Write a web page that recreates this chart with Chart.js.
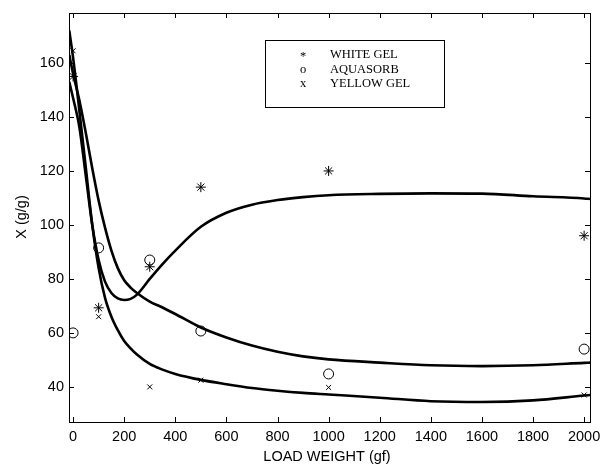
<!DOCTYPE html>
<html>
<head>
<meta charset="utf-8">
<script src="https://cdn.jsdelivr.net/npm/chart.js@4"></script>
<style>
  html, body { margin: 0; padding: 0; background: #fff; }
  #wrap { width: 600px; height: 467px; }
</style>
</head>
<body>
<div id="wrap"><canvas id="c" width="600" height="467"></canvas></div>
<script>
// Measured points
const LOADS = [0, 100, 300, 500, 1000, 2000];
const WHITE_GEL = [155, 69.3, 84.5, 114, 120, 96];
const AQUASORB = [60, 91.5, 87, 60.7, 44.8, 54];
const YELLOW_GEL = [164.5, 66, 40, 42.5, 39.8, 37];

// Fitted curves
const FIT_X = [-15, 0, 25, 50, 75, 100, 125, 150, 175, 200, 225, 250, 300, 350, 400, 500, 600, 700, 800, 900, 1000, 1200, 1400, 1600, 1800, 2000, 2023];
const WHITE_FIT = [153, 147, 136, 118, 100, 87, 79, 74.8, 72.8, 72.2, 72.6, 74.2, 80, 85.5, 90.5, 99.3, 104.5, 107.5, 109.2, 110.3, 111, 111.5, 111.7, 111.6, 110.6, 109.8, 109.6];
const AQUA_FIT = [163, 156, 146, 134, 121, 109, 99, 90.5, 84, 79.5, 76.8, 74.8, 71.6, 69.4, 67, 62, 58.3, 55.3, 53, 51.3, 50.2, 49, 48, 47.7, 48, 48.9, 49];
const YELLOW_FIT = [172, 162, 142, 121, 100, 84, 73, 66, 61, 57, 54.3, 52, 48.5, 46.4, 44.8, 42.6, 41, 39.6, 38.6, 37.8, 37.2, 36, 34.7, 34.4, 35, 36.8, 37];

const X_TICKS = [0, 200, 400, 600, 800, 1000, 1200, 1400, 1600, 1800, 2000];
const Y_TICKS = [40, 60, 80, 100, 120, 140, 160];
const X_TITLE = 'LOAD WEIGHT (gf)';
const Y_TITLE = 'X (g/g)';

const pts = (xs, ys) => xs.map((x, i) => ({ x, y: ys[i] }));

function fitSet(ys) {
  return {
    type: 'line', data: pts(FIT_X, ys), borderColor: '#000', borderWidth: 2.6,
    pointRadius: 0, cubicInterpolationMode: 'monotone', fill: false, order: 2,
  };
}

function markerSet(label, xs, ys, style, r) {
  return {
    type: 'scatter', label, data: pts(xs, ys), pointStyle: style, pointRadius: r,
    borderColor: '#000', backgroundColor: 'transparent', pointBorderWidth: 1, order: 1,
  };
}

// Box, inward ticks, tick labels, titles and legend in MATLAB style
const frame = {
  id: 'frame',
  afterDraw(chart) {
    const { ctx, chartArea: a, scales: { x, y } } = chart;
    ctx.save();
    ctx.strokeStyle = '#000';
    ctx.lineWidth = 1;
    ctx.strokeRect(Math.round(a.left) + 0.5, Math.round(a.top) + 0.5, Math.round(a.right - a.left), Math.round(a.bottom - a.top));
    const T = 5;
    ctx.beginPath();
    X_TICKS.forEach(v => {
      const px = Math.round(x.getPixelForValue(v)) + 0.5;
      ctx.moveTo(px, a.bottom); ctx.lineTo(px, a.bottom - T);
      ctx.moveTo(px, a.top); ctx.lineTo(px, a.top + T);
    });
    Y_TICKS.forEach(v => {
      const py = Math.round(y.getPixelForValue(v)) + 0.5;
      ctx.moveTo(a.left, py); ctx.lineTo(a.left + T, py);
      ctx.moveTo(a.right, py); ctx.lineTo(a.right - T, py);
    });
    ctx.stroke();

    ctx.fillStyle = '#000';
    ctx.font = '14.5px "Liberation Sans", Arial, sans-serif';
    ctx.textAlign = 'center'; ctx.textBaseline = 'middle';
    X_TICKS.forEach(v => ctx.fillText(String(v), x.getPixelForValue(v), a.bottom + 15));
    ctx.textAlign = 'right';
    Y_TICKS.forEach(v => ctx.fillText(String(v), a.left - 5, y.getPixelForValue(v)));

    ctx.textAlign = 'center';
    ctx.fillText(X_TITLE, 327, 457);
    ctx.save();
    ctx.translate(22, 217);
    ctx.rotate(-Math.PI / 2);
    ctx.fillText(Y_TITLE, 0, 0);
    ctx.restore();

    // legend
    const marks = ['*', 'o', 'x'];
    const sets = chart.data.datasets.filter(d => d.label);
    ctx.strokeRect(265.5, 40.5, 179, 67);
    ctx.font = '12.5px "Liberation Serif", "Times New Roman", serif';
    sets.forEach((d, i) => {
      const ly = 55 + i * 14.5;
      ctx.textAlign = 'center';
      ctx.fillText(marks[i], 303, ly + (i === 0 ? 2 : 0));
      ctx.textAlign = 'left';
      ctx.fillText(d.label, 330, ly);
    });
    ctx.restore();
  },
};

new Chart(document.getElementById('c'), {
  data: {
    datasets: [
      markerSet('WHITE GEL', LOADS, WHITE_GEL, 'star', 5),
      markerSet('AQUASORB', LOADS, AQUASORB, 'circle', 5),
      markerSet('YELLOW GEL', LOADS, YELLOW_GEL, 'crossRot', 3.5),
      fitSet(WHITE_FIT),
      fitSet(AQUA_FIT),
      fitSet(YELLOW_FIT),
    ],
  },
  options: {
    responsive: false,
    animation: false,
    layout: { padding: { left: 69, right: 10, top: 13, bottom: 45 } },
    plugins: { legend: { display: false }, tooltip: { enabled: false } },
    scales: {
      x: { type: 'linear', display: false, min: -16, max: 2023 },
      y: { type: 'linear', display: false, min: 27, max: 178.5 },
    },
  },
  plugins: [frame],
});
</script>
</body>
</html>
